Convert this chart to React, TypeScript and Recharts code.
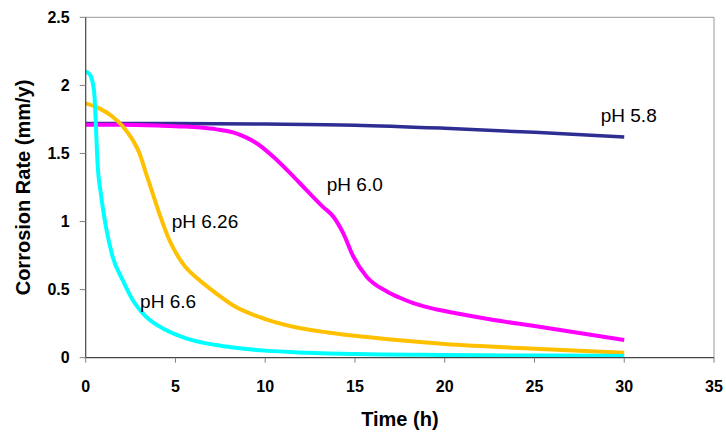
import React from 'react';
import { LineChart, Line, XAxis, YAxis, ReferenceLine, ReferenceDot, Label } from 'recharts';

// Corrosion rate (mm/y) against exposure time (h) for four solution pH values
const ph58Time = [0, 5, 10, 15, 20, 25, 30];
const ph58Rate = [1.72, 1.72, 1.716, 1.708, 1.685, 1.655, 1.62];

const ph60Time = [0, 2, 4, 5.5, 6.4, 7.3, 8.2, 8.9, 9.5, 10.45, 11.4, 12.3, 13.2, 13.8, 14.35, 14.9, 15.65, 16.8, 17.5, 18.25, 19.7, 20.5, 22.5, 25, 27.5, 30];
const ph60Rate = [1.71, 1.71, 1.705, 1.698, 1.69, 1.677, 1.655, 1.62, 1.577, 1.476, 1.354, 1.231, 1.11, 1.035, 0.913, 0.745, 0.595, 0.485, 0.44, 0.4, 0.35, 0.33, 0.282, 0.233, 0.182, 0.13];

const ph626Time = [0, 0.76, 1.5, 2.06, 2.62, 3.0, 3.36, 3.73, 4.1, 4.66, 5.4, 6.33, 7.26, 8.2, 10.1, 11.9, 13.5, 15.4, 20, 25, 30];
const ph626Rate = [1.868, 1.831, 1.77, 1.7, 1.598, 1.5, 1.354, 1.207, 1.06, 0.864, 0.693, 0.57, 0.473, 0.385, 0.28, 0.218, 0.185, 0.155, 0.1, 0.066, 0.037];

const ph66Time = [0, 0.15, 0.3, 0.42, 0.48, 0.57, 0.65, 0.85, 1.13, 1.5, 2.06, 2.62, 3.36, 4.47, 5.59, 7.26, 8.2, 10, 12, 15, 20, 25, 30];
const ph66Rate = [2.1, 2.09, 2.063, 2.0, 1.94, 1.7, 1.45, 1.2, 0.96, 0.742, 0.57, 0.424, 0.301, 0.203, 0.142, 0.093, 0.075, 0.052, 0.038, 0.027, 0.02, 0.016, 0.013];

// Curve annotations, anchored at the start of the text baseline (data units)
const annotationText = ['pH 5.8', 'pH 6.0', 'pH 6.26', 'pH 6.6'];
const annotationTime = [28.69, 13.43, 4.79, 3.03];
const annotationRate = [1.728, 1.226, 0.952, 0.367];

const xTicks = [0, 5, 10, 15, 20, 25, 30, 35];
const yTicks = [0, 0.5, 1, 1.5, 2, 2.5];

const toPoints = (time: number[], rate: number[]) => time.map((t, i) => ({ t, rate: rate[i] }));

const series = [
  { name: 'pH 5.8', data: toPoints(ph58Time, ph58Rate), color: '#2E2E92', width: 3.5 },
  { name: 'pH 6.0', data: toPoints(ph60Time, ph60Rate), color: '#FF00FF', width: 4 },
  { name: 'pH 6.26', data: toPoints(ph626Time, ph626Rate), color: '#FFC000', width: 4 },
  { name: 'pH 6.6', data: toPoints(ph66Time, ph66Rate), color: '#00FFFF', width: 4 },
];

const FONT = '"Liberation Sans", Arial, Helvetica, sans-serif';
const tickStyle = { fontFamily: FONT, fontSize: 16, fontWeight: 700, fill: '#000' };

const annotation = (text: string) => (props: any) => {
  const vb = props.viewBox || {};
  return (
    <text x={vb.x} y={vb.y} fontFamily={FONT} fontSize={19} fill="#000" textAnchor="start">
      {text}
    </text>
  );
};

export default function App() {
  return (
    <div style={{ position: 'fixed', left: 0, top: 0, width: 726, height: 432, background: '#fff' }}>
      <LineChart width={726} height={432} margin={{ top: 17.3, right: 12, bottom: 0, left: 0 }}>
        <XAxis
          type="number"
          dataKey="t"
          domain={[0, 35]}
          ticks={xTicks}
          allowDataOverflow
          interval={0}
          height={74.3}
          tick={tickStyle}
          tickSize={5}
          tickMargin={18}
          axisLine={{ stroke: '#444', strokeWidth: 1.2 }}
          tickLine={{ stroke: '#808080' }}
        >
          <Label
            value="Time (h)"
            position="insideBottom"
            offset={6}
            style={{ fontFamily: FONT, fontSize: 20, fontWeight: 700, fill: '#000' }}
          />
        </XAxis>
        <YAxis
          type="number"
          domain={[0, 2.5]}
          ticks={yTicks}
          allowDataOverflow
          interval={0}
          width={85.7}
          tick={tickStyle}
          tickSize={6}
          tickMargin={10}
          axisLine={{ stroke: '#444', strokeWidth: 1.2 }}
          tickLine={{ stroke: '#808080' }}
        >
          <Label
            value="Corrosion Rate (mm/y)"
            angle={-90}
            position="insideLeft"
            offset={23}
            style={{ fontFamily: FONT, fontSize: 20, fontWeight: 700, fill: '#000', textAnchor: 'middle' }}
          />
        </YAxis>
        <ReferenceLine y={2.5} stroke="#999" strokeWidth={1} />
        <ReferenceLine x={35} stroke="#999" strokeWidth={1} />
        {series.map((s) => (
          <Line
            key={s.name}
            name={s.name}
            data={s.data}
            dataKey="rate"
            type="monotone"
            stroke={s.color}
            strokeWidth={s.width}
            dot={false}
            activeDot={false}
            isAnimationActive={false}
          />
        ))}
        {annotationText.map((text, i) => (
          <ReferenceDot
            key={text}
            x={annotationTime[i]}
            y={annotationRate[i]}
            r={0}
            fill="none"
            stroke="none"
            label={annotation(text)}
          />
        ))}
      </LineChart>
    </div>
  );
}
